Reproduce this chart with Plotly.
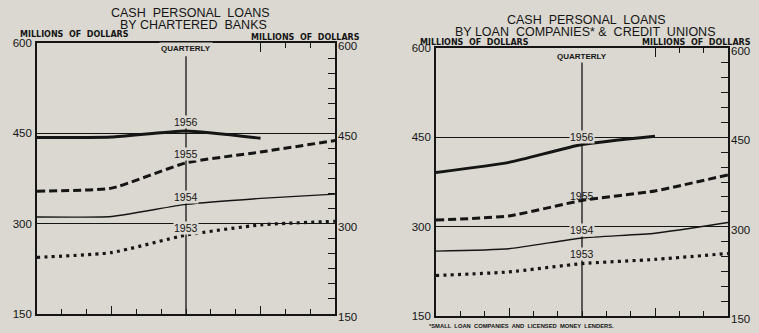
import plotly.graph_objects as go

# ---------------- data ----------------
quarters = [0, 3, 6, 9, 12]
bank_1953 = [244, 252, 281, 298, 304]
bank_1954 = [311, 312, 332, 342, 349]
bank_1955 = [354, 359, 401, 419, 438]
bank_1956 = [443, 444, 454, 442]
loan_1953 = [218, 224, 238, 245, 255]
loan_1954 = [259, 263, 281, 289, 307]
loan_1955 = [311, 318, 344, 360, 387]
loan_1956 = [391, 408, 438, 452]
y_label_vals = [150, 300, 450, 600]
y_label_text = ["150", "300", "450", "600"]
right_tick_vals = list(range(150, 601, 25))
right_tick_text = [str(v) if v in y_label_vals else "" for v in right_tick_vals]

BG = "#dad8d0"
INK = "#151515"
FONT = "Liberation Sans"
W, H = 759, 333

fig = go.Figure()

styles = {
    "1953": dict(width=3.2, dash="3px,4.3px"),
    "1954": dict(width=1.4, dash="solid"),
    "1955": dict(width=3, dash="8px,4px"),
    "1956": dict(width=3, dash="solid"),
}

panels = [
    dict(xa="x", ya="y", data={"1953": bank_1953, "1954": bank_1954, "1955": bank_1955, "1956": bank_1956}),
    dict(xa="x2", ya="y2", data={"1953": loan_1953, "1954": loan_1954, "1955": loan_1955, "1956": loan_1956}),
]
for p in panels:
    for yr, vals in p["data"].items():
        fig.add_trace(go.Scatter(
            x=quarters[:len(vals)], y=vals, mode="lines",
            line=dict(color=INK, shape="spline", smoothing=0.5, **styles[yr]),
            xaxis=p["xa"], yaxis=p["ya"], showlegend=False, hoverinfo="skip"))

# dummy traces so overlay axes render
for xa, ya in [("x3", "y"), ("x", "y3"), ("x4", "y2"), ("x2", "y4")]:
    fig.add_trace(go.Scatter(x=[None], y=[None], xaxis=xa, yaxis=ya, showlegend=False))

def px_x(v):
    return v / W

def px_y(v):
    return 1 - v / H

dom_left_x = [px_x(37), px_x(335)]
dom_left_y = [px_y(314), px_y(43)]
dom_right_x = [px_x(436), px_x(728)]
dom_right_y = [px_y(316), px_y(48)]

tickfont = dict(family=FONT, size=11.5, color=INK)

def bottom_x(domain, anchor):
    return dict(domain=domain, anchor=anchor, range=[0, 12], showline=True, mirror=True,
                linecolor=INK, linewidth=1.6, showgrid=False, zeroline=False, automargin=False,
                tickmode="array", tickvals=[3, 9], ticks="inside", ticklen=8, tickwidth=1.3,
                tickcolor=INK, showticklabels=False,
                minor=dict(tickmode="linear", tick0=0, dtick=1, ticks="inside", ticklen=5,
                           tickwidth=1, tickcolor=INK))

def top_x(overlay, anchor):
    return dict(overlaying=overlay, anchor=anchor, side="top", range=[0, 12], showline=False,
                showgrid=False, zeroline=False, automargin=False, tickmode="array", tickvals=[9],
                ticks="inside", ticklen=9, tickwidth=1.3, tickcolor=INK, showticklabels=False,
                minor=dict(tickmode="array", tickvals=[10, 11], ticks="inside", ticklen=5,
                           tickwidth=1, tickcolor=INK))

def left_y(domain, anchor):
    return dict(domain=domain, anchor=anchor, range=[150, 600], showline=True, mirror=True,
                linecolor=INK, linewidth=1.6, showgrid=True, gridcolor=INK, gridwidth=1,
                zeroline=False, automargin=False, tickmode="array", tickvals=y_label_vals,
                ticktext=y_label_text, ticks="", tickfont=tickfont, ticklabelstandoff=1)

def right_y(overlay, anchor):
    return dict(overlaying=overlay, anchor=anchor, side="right", range=[150, 600],
                showline=False, showgrid=False, zeroline=False, automargin=False,
                tickmode="array", tickvals=right_tick_vals, ticktext=right_tick_text,
                ticks="inside", ticklen=7, tickwidth=1.2, tickcolor=INK,
                ticklabelposition="outside", ticklabelshift=3, ticklabelstandoff=2,
                tickfont=tickfont)

fig.update_layout(
    width=W, height=H, margin=dict(l=0, r=0, t=0, b=0, autoexpand=False),
    paper_bgcolor=BG, plot_bgcolor=BG, showlegend=False,
    xaxis=bottom_x(dom_left_x, "y"),
    yaxis=left_y(dom_left_y, "x"),
    xaxis2=bottom_x(dom_right_x, "y2"),
    yaxis2=left_y(dom_right_y, "x2"),
    xaxis3=top_x("x", "y"),
    yaxis3=right_y("y", "x"),
    xaxis4=top_x("x2", "y2"),
    yaxis4=right_y("y2", "x2"),
)

# centre (quarterly) divider
for xa, ya in [("x", "y"), ("x2", "y2")]:
    fig.add_shape(type="line", xref=xa, yref=ya, x0=6, x1=6, y0=150, y1=578,
                  line=dict(color=INK, width=1.3), layer="above")

yearfont = dict(family=FONT, size=10.5, color=INK)
year_labels = [
    ("x", "y", "1956", 469, True), ("x", "y", "1955", 416, True),
    ("x", "y", "1954", 344, True), ("x", "y", "1953", 292, True),
    ("x2", "y2", "1956", 450, True), ("x2", "y2", "1955", 352, False),
    ("x2", "y2", "1954", 295, True), ("x2", "y2", "1953", 254, True),
]
for xa, ya, txt, yv, mask in year_labels:
    fig.add_annotation(x=6, y=yv, xref=xa, yref=ya, text=txt, showarrow=False,
                       font=yearfont, bgcolor=BG if mask else "rgba(0,0,0,0)",
                       borderpad=0, yanchor="middle")

qfont = dict(family=FONT, size=8, color=INK)
fig.add_annotation(x=6, y=591, xref="x", yref="y", text="<b>QUARTERLY</b>", showarrow=False,
                   font=qfont, bgcolor=BG, borderpad=1)
fig.add_annotation(x=6, y=586, xref="x2", yref="y2", text="<b>QUARTERLY</b>", showarrow=False,
                   font=qfont, bgcolor=BG, borderpad=1)

def paper_text(text, x, y, size, anchor="center", bold=False, family=FONT):
    fig.add_annotation(x=px_x(x), y=px_y(y), xref="paper", yref="paper",
                       text=f"<b>{text}</b>" if bold else text, showarrow=False,
                       xanchor=anchor, yanchor="middle", borderpad=0,
                       font=dict(family=family, size=size, color=INK))

paper_text("CASH  PERSONAL  LOANS", 190, 13, 12.5)
paper_text("BY CHARTERED  BANKS", 193, 25, 12.5)
paper_text("CASH  PERSONAL  LOANS", 586, 20, 12.5)
paper_text("BY LOAN  COMPANIES* &  CREDIT  UNIONS", 585, 32, 12.5)
MF = "DejaVu Sans"
paper_text("MILLIONS  OF  DOLLARS", 19, 35, 8, "left", True, MF)
paper_text("MILLIONS  OF  DOLLARS", 361, 37, 8, "right", True, MF)
paper_text("MILLIONS  OF  DOLLARS", 419, 42, 8, "left", True, MF)
paper_text("MILLIONS  OF  DOLLARS", 752, 42, 8, "right", True, MF)
paper_text("*SMALL  LOAN  COMPANIES  AND  LICENSED  MONEY  LENDERS.", 428, 326, 5.8, "left", True)

fig.write_html("out.html", config={"displayModeBar": False},
               post_script="document.body.style.margin='0';")
